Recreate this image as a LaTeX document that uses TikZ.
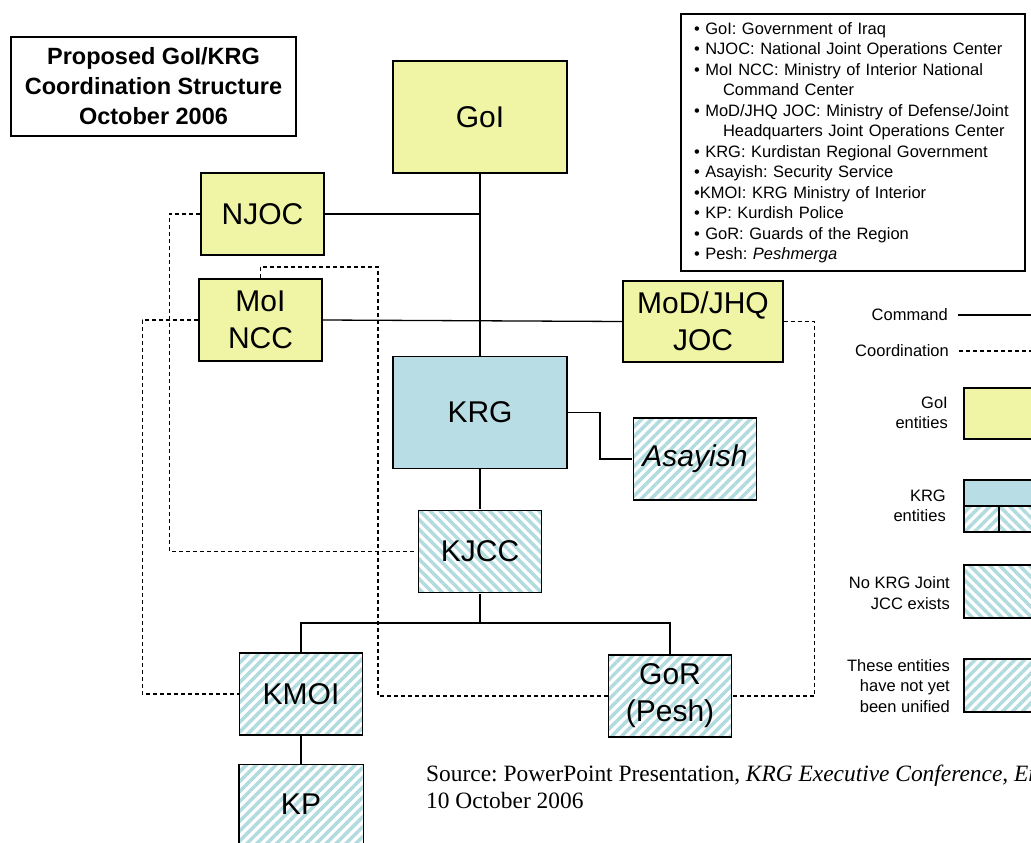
\documentclass[tikz,border=0pt]{standalone}
\usepackage{fontspec}
\setmainfont{Liberation Sans}
\newfontfamily\srcfont{Liberation Serif}
\usetikzlibrary{patterns.meta}
\frenchspacing
\definecolor{goiyellow}{RGB}{240,245,165}
\definecolor{krgblue}{RGB}{185,221,228}
\definecolor{hatchblue}{RGB}{178,219,224}
\tikzstyle{every node}=[inner sep=0pt]
\tikzstyle{box}=[draw=black,line width=1.4pt,align=center,font=\fontsize{30}{37}\selectfont,minimum width=123pt,minimum height=82pt]
\tikzstyle{big}=[minimum width=174pt,minimum height=112pt]
\tikzstyle{goi}=[box,fill=goiyellow]
\tikzstyle{krg}=[box,fill=krgblue]
\tikzstyle{unified}=[pattern={Lines[angle=45,distance=7pt,line width=3.5pt]},pattern color=hatchblue]
\tikzstyle{nojcc}=[pattern={Lines[angle=-45,distance=7pt,line width=3.5pt]},pattern color=hatchblue]
\tikzstyle{command}=[line width=1.3pt]
\tikzstyle{coord}=[line width=1.2pt,dash pattern=on 4pt off 3pt]
\tikzstyle{legend}=[font=\fontsize{16.5}{20.5}\selectfont]
\tikzstyle{swatch}=[line width=1.4pt]

\begin{document}
\begin{tikzpicture}[x=1pt,y=-1pt]
    \useasboundingbox (0,0) rectangle (1031,843);
    \node [draw,line width=1.2pt,minimum width=285pt,minimum height=99pt,align=center,
        font=\bfseries\fontsize{23.5}{30}\selectfont] (title) at (153.5,86.5)
        {Proposed GoI/KRG\\Coordination Structure\\October 2006};

    \node [goi,big] (goi) at (480,117) {GoI};
    \node [goi] (njoc) at (262.5,214) {NJOC};
    \node [goi] (moi) at (260.5,320) {MoI\\NCC};
    \node [goi,minimum width=160pt,minimum height=81pt] (mod) at (703,321.5) {MoD/JHQ\\JOC};
    \node [krg,big] (krg) at (480,412.5) {KRG};
    \node [box,unified] (asayish) at (695,459) {\itshape Asayish};
    \node [box,nojcc] (kjcc) at (480,551.5) {KJCC};
    \node [box,unified] (kmoi) at (301,694) {KMOI};
    \node [box,unified,draw=none,minimum height=78pt] (kp) at (301,804) {KP};
    \node [box,unified] (gor) at (670,696) {GoR\\(Pesh)};
    \draw [swatch] (kp.south west) |- (kp.north east) -- (kp.south east);

    \coordinate (asybend) at (600,459);
    \coordinate (fork) at (480,623);
    \coordinate (moihook) at (378,267);

    \draw [command] (goi.south) -- (krg.north);
    \draw [command] (njoc.east) -- (njoc.east -| goi.south);
    \draw [command] (moi.east) -- (mod.west);
    \draw [command] (krg.east) -| (asybend) -- (asayish.west);
    \draw [command] (krg.south) -- (kjcc.north);
    \draw [command] (kjcc.south) -- (fork);
    \draw [command] (kmoi.north) |- (fork) -| (gor.north);
    \draw [command] (kmoi.south) -- (kp.north);

    \draw [coord] (njoc.west) -- ++(-31,0) |- (kjcc.west);
    \draw [coord] (moi.north) |- (moihook) |- (gor.west);
    \draw [coord] (moi.west) -- ++(-56,0) |- (kmoi.west);
    \draw [coord] (mod.east) -- ++(31,0) |- (gor.east);

    \node [draw,line width=1.2pt,legend,align=left,text width=318pt,inner xsep=13pt,
        minimum height=257pt] (glossary) at (853,142.5)
        {\textbullet{} GoI: Government of Iraq\\
        \textbullet{} NJOC: National Joint Operations Center\\
        \textbullet{} MoI NCC: Ministry of Interior National\\
        \hspace*{29pt}Command Center\\
        \textbullet{} MoD/JHQ JOC: Ministry of Defense/Joint\\
        \hspace*{29pt}Headquarters Joint Operations Center\\
        \textbullet{} KRG: Kurdistan Regional Government\\
        \textbullet{} Asayish: Security Service\\
        \textbullet KMOI: KRG Ministry of Interior\\
        \textbullet{} KP: Kurdish Police\\
        \textbullet{} GoR: Guards of the Region\\
        \textbullet{} Pesh: \textit{Peshmerga}};

    \node [legend,anchor=east] (legcmd) at (948,315) {Command};
    \coordinate (cmdend) at (1031,315);
    \draw [command] ([xshift=10pt]legcmd.east) -- (cmdend);
    \node [legend,anchor=east] (legcoord) at (949,351) {Coordination};
    \coordinate (coordend) at (1031,351);
    \draw [coord] ([xshift=10pt]legcoord.east) -- (coordend);

    \fill [goiyellow] (964,388) rectangle (1031,439);
    \draw [swatch] (1031,388) -| (964,439) -- (1031,439);
    \node [legend,anchor=east,align=right] (leggoi) at (948,413) {GoI\\entities};

    \fill [krgblue] (964,480) rectangle (1031,506);
    \path [unified] (964,506) rectangle (999,532);
    \path [nojcc] (999,506) rectangle (1031,532);
    \draw [swatch] (1031,480) -| (964,532) -- (1031,532) (964,506) -- (1031,506) (999,506) -- (999,532);
    \node [legend,anchor=east,align=right] (legkrg) at (946,506) {KRG\\entities};

    \path [nojcc] (964,565) rectangle (1031,618);
    \draw [swatch] (1031,565) -| (964,618) -- (1031,618);
    \node [legend,anchor=east,align=right] (legjcc) at (950,593) {No KRG Joint\\JCC exists};

    \path [unified] (964,659) rectangle (1031,712);
    \draw [swatch] (1031,659) -| (964,712) -- (1031,712);
    \node [legend,anchor=east,align=right] (legunif) at (950,686) {These entities\\have not yet\\been unified};

    \node [anchor=west,align=left,font=\srcfont\fontsize{23.4}{26.5}\selectfont] (source) at (426,787)
        {Source: PowerPoint Presentation, \textit{KRG Executive Conference, Erbil,}\\10 October 2006};
\end{tikzpicture}
\end{document}
